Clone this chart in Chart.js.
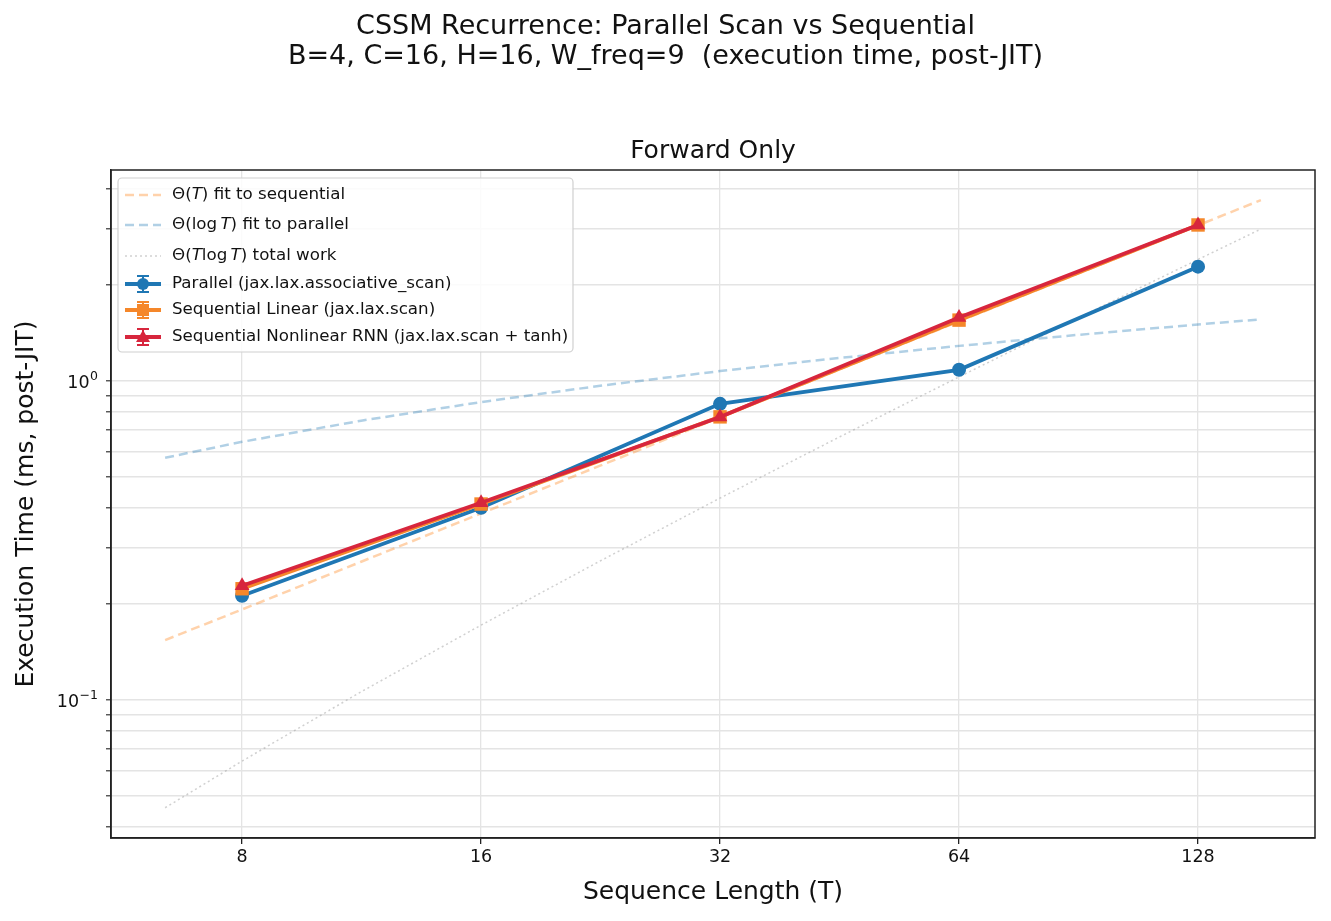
<!DOCTYPE html>
<html>
<head>
<meta charset="utf-8">
<script src="https://cdn.jsdelivr.net/npm/chart.js@4.4.1/dist/chart.umd.min.js"></script>
<style>
  html, body { margin: 0; padding: 0; background: #fff; }
  #wrap { width: 1331px; height: 921px; position: relative; }
</style>
</head>
<body>
<div id="wrap"><canvas id="scan-chart"></canvas></div>
<script>
// sequence lengths and timings (ms, post-JIT)
const seqLens = [8, 16, 32, 64, 128];
const parallelMs = [0.212, 0.400, 0.847, 1.083, 2.28];
const seqLinearMs = [0.223, 0.411, 0.771, 1.55, 3.08];
const seqRnnMs = [0.228, 0.415, 0.770, 1.58, 3.08];

// reference curves, sampled along the drawn fit lines
const fitT = [6.4, 8, 11.3, 16, 22.6, 32, 45.3, 64, 90.5, 128, 153.6];
const fitLinearMs = [0.154, 0.192, 0.271, 0.384, 0.542, 0.768, 1.087, 1.536, 2.172, 3.072, 3.686];
const fitLogMs = [0.574, 0.644, 0.750, 0.858, 0.965, 1.073, 1.180, 1.287, 1.394, 1.502, 1.558];
const fitTLogTMs = [0.0459, 0.0643, 0.106, 0.1715, 0.2725, 0.429, 0.668, 1.029, 1.576, 2.401, 2.99];

const xTicks = [8, 16, 32, 64, 128];
const yTicks = [0.04, 0.05, 0.06, 0.07, 0.08, 0.09, 0.1, 0.2, 0.3, 0.4, 0.5, 0.6, 0.7, 0.8, 0.9, 1, 2, 3, 4];
const yDecades = [0.1, 1];
const yExponents = ["\u22121", "0"];

const BLUE = "#1f77b4";
const ORANGE = "#f5872a";
const RED = "#d7263d";
const FONT = "'DejaVu Sans', sans-serif";

function pts(xs, ys) {
  return xs.map((x, i) => ({ x: x, y: ys[i] }));
}

const legendRows = [
  { parts: [["\u0398(", 0], ["T", 1], [") fit to sequential", 0]], color: "rgba(255,127,14,0.35)", dash: [9, 5], lw: 2.5 },
  { parts: [["\u0398(log\u2009", 0], ["T", 1], [") fit to parallel", 0]], color: "rgba(31,119,180,0.35)", dash: [9, 5], lw: 2.5 },
  { parts: [["\u0398(", 0], ["T", 1], ["log\u2009", 0], ["T", 1], [") total work", 0]], color: "rgba(150,150,150,0.45)", dash: [2, 3], lw: 1.5 },
  { parts: [["Parallel (jax.lax.associative_scan)", 0]], color: BLUE, marker: "circle" },
  { parts: [["Sequential Linear (jax.lax.scan)", 0]], color: ORANGE, marker: "rect" },
  { parts: [["Sequential Nonlinear RNN (jax.lax.scan + tanh)", 0]], color: RED, marker: "triangle" },
];
const legendRowY = [195, 225, 256, 284, 310, 337];

const decorPlugin = {
  id: "decor",
  afterDraw(chart) {
    const ctx = chart.ctx;
    const a = chart.chartArea;
    ctx.save();
    // titles
    ctx.fillStyle = "#111";
    ctx.textAlign = "center";
    ctx.textBaseline = "middle";
    ctx.font = "27px " + FONT;
    ctx.fillText("CSSM Recurrence: Parallel Scan vs Sequential", 665.5, 27);
    ctx.fillText("B=4, C=16, H=16, W_freq=9  (execution time, post-JIT)", 665.5, 57);
    ctx.font = "25px " + FONT;
    ctx.fillText("Forward Only", (a.left + a.right) / 2, 151);

    // y decade labels with real superscripts
    const ys = chart.scales.y;
    yDecades.forEach((v, i) => {
      const py = ys.getPixelForValue(v);
      const right = a.left - 13;
      ctx.textAlign = "right";
      ctx.textBaseline = "alphabetic";
      ctx.font = "12.5px " + FONT;
      const expW = ctx.measureText(yExponents[i]).width;
      ctx.fillText(yExponents[i], right, py - 1);
      ctx.font = "17.5px " + FONT;
      ctx.fillText("10", right - expW - 0.5, py + 7);
    });

    // frame
    ctx.strokeStyle = "#222";
    ctx.lineWidth = 1.5;
    ctx.strokeRect(a.left, a.top, a.right - a.left, a.bottom - a.top);

    // legend
    const bx = 118, by = 178, bw = 455, bh = 174;
    ctx.fillStyle = "rgba(255,255,255,0.85)";
    ctx.strokeStyle = "#d0d0d0";
    ctx.lineWidth = 1.2;
    ctx.beginPath();
    ctx.roundRect(bx, by, bw, bh, 4);
    ctx.fill();
    ctx.stroke();

    ctx.textBaseline = "middle";
    legendRows.forEach((row, i) => {
      const y = legendRowY[i];
      const x0 = 125, x1 = 161, xm = 143;
      ctx.setLineDash(row.dash || []);
      ctx.strokeStyle = row.color;
      ctx.lineWidth = row.lw || 3.8;
      ctx.beginPath();
      ctx.moveTo(x0, y);
      ctx.lineTo(x1, y);
      ctx.stroke();
      ctx.setLineDash([]);
      if (row.marker) {
        // error bar glyph
        ctx.lineWidth = 2;
        ctx.beginPath();
        ctx.moveTo(xm, y - 8); ctx.lineTo(xm, y + 8);
        ctx.moveTo(xm - 6, y - 8); ctx.lineTo(xm + 6, y - 8);
        ctx.moveTo(xm - 6, y + 8); ctx.lineTo(xm + 6, y + 8);
        ctx.stroke();
        ctx.fillStyle = row.color;
        ctx.beginPath();
        if (row.marker === "circle") {
          ctx.arc(xm, y, 6, 0, Math.PI * 2);
        } else if (row.marker === "rect") {
          ctx.rect(xm - 6, y - 6, 12, 12);
        } else {
          ctx.moveTo(xm, y - 7);
          ctx.lineTo(xm + 7, y + 5);
          ctx.lineTo(xm - 7, y + 5);
          ctx.closePath();
        }
        ctx.fill();
      }
      let tx = 172;
      ctx.fillStyle = "#111";
      ctx.textAlign = "left";
      row.parts.forEach(([txt, it]) => {
        ctx.font = (it ? "italic " : "") + "16.7px " + FONT;
        ctx.fillText(txt, tx, y);
        tx += ctx.measureText(txt).width;
      });
    });
    ctx.restore();
  },
};

const scanChart = new Chart(document.getElementById("scan-chart"), {
  type: "line",
  data: {
    datasets: [
      {
        label: "Θ(T) fit to sequential",
        data: pts(fitT, fitLinearMs),
        borderColor: "rgba(255,127,14,0.35)",
        borderWidth: 2.5,
        borderDash: [9, 5],
        pointRadius: 0,
        order: 6,
      },
      {
        label: "Θ(log T) fit to parallel",
        data: pts(fitT, fitLogMs),
        borderColor: "rgba(31,119,180,0.35)",
        borderWidth: 2.5,
        borderDash: [9, 5],
        pointRadius: 0,
        order: 5,
      },
      {
        label: "Θ(T log T) total work",
        data: pts(fitT, fitTLogTMs),
        borderColor: "rgba(150,150,150,0.45)",
        borderWidth: 1.5,
        borderDash: [2, 3],
        pointRadius: 0,
        order: 4,
      },
      {
        label: "Parallel (jax.lax.associative_scan)",
        data: pts(seqLens, parallelMs),
        borderColor: BLUE,
        backgroundColor: BLUE,
        borderWidth: 3.8,
        pointStyle: "circle",
        pointRadius: 7,
        pointBorderWidth: 0,
        order: 3,
      },
      {
        label: "Sequential Linear (jax.lax.scan)",
        data: pts(seqLens, seqLinearMs),
        borderColor: ORANGE,
        backgroundColor: ORANGE,
        borderWidth: 3.8,
        pointStyle: "rect",
        pointRadius: 9.5,
        pointBorderWidth: 0,
        order: 2,
      },
      {
        label: "Sequential Nonlinear RNN (jax.lax.scan + tanh)",
        data: pts(seqLens, seqRnnMs),
        borderColor: RED,
        backgroundColor: RED,
        borderWidth: 3.8,
        pointStyle: "triangle",
        pointRadius: 8.5,
        pointBorderWidth: 0,
        order: 1,
      },
    ],
  },
  options: {
    responsive: true,
    maintainAspectRatio: false,
    animation: false,
    layout: { padding: { left: 0, right: 16, top: 170, bottom: 0 } },
    plugins: {
      legend: { display: false },
      tooltip: { enabled: false },
      title: { display: false },
    },
    scales: {
      x: {
        type: "logarithmic",
        min: 5.47,
        max: 179.7,
        afterBuildTicks: (s) => { s.ticks = xTicks.map((v) => ({ value: v })); },
        afterFit: (s) => { s.height = 83; },
        ticks: {
          autoSkip: false,
          maxRotation: 0,
          padding: 3,
          color: "#111",
          font: { family: FONT, size: 17.5 },
          callback: (v) => String(v),
        },
        grid: { color: "#e4e4e4", lineWidth: 1.3, tickLength: 6, tickColor: "#222", tickWidth: 1.3 },
        border: { display: true, color: "#222", width: 1.5 },
        title: {
          display: true,
          text: "Sequence Length (T)",
          color: "#111",
          font: { family: FONT, size: 25 },
          padding: { top: 0, bottom: 14 },
        },
      },
      y: {
        type: "logarithmic",
        min: 0.0369,
        max: 4.58,
        afterBuildTicks: (s) => { s.ticks = yTicks.map((v) => ({ value: v })); },
        afterFit: (s) => { s.width = 111; },
        ticks: {
          autoSkip: false,
          padding: 7,
          color: "#111",
          font: { family: FONT, size: 17.5 },
          callback: () => "",
        },
        grid: {
          color: "#e4e4e4",
          lineWidth: 1.6,
          tickLength: 5,
          tickColor: "#222",
          tickWidth: 1.1,
        },
        border: { display: true, color: "#222", width: 1.5 },
        title: {
          display: true,
          text: "Execution Time (ms, post-JIT)",
          color: "#111",
          font: { family: FONT, size: 25 },
          padding: { top: 11, bottom: 0 },
        },
      },
    },
  },
  plugins: [decorPlugin],
});
</script>
</body>
</html>
